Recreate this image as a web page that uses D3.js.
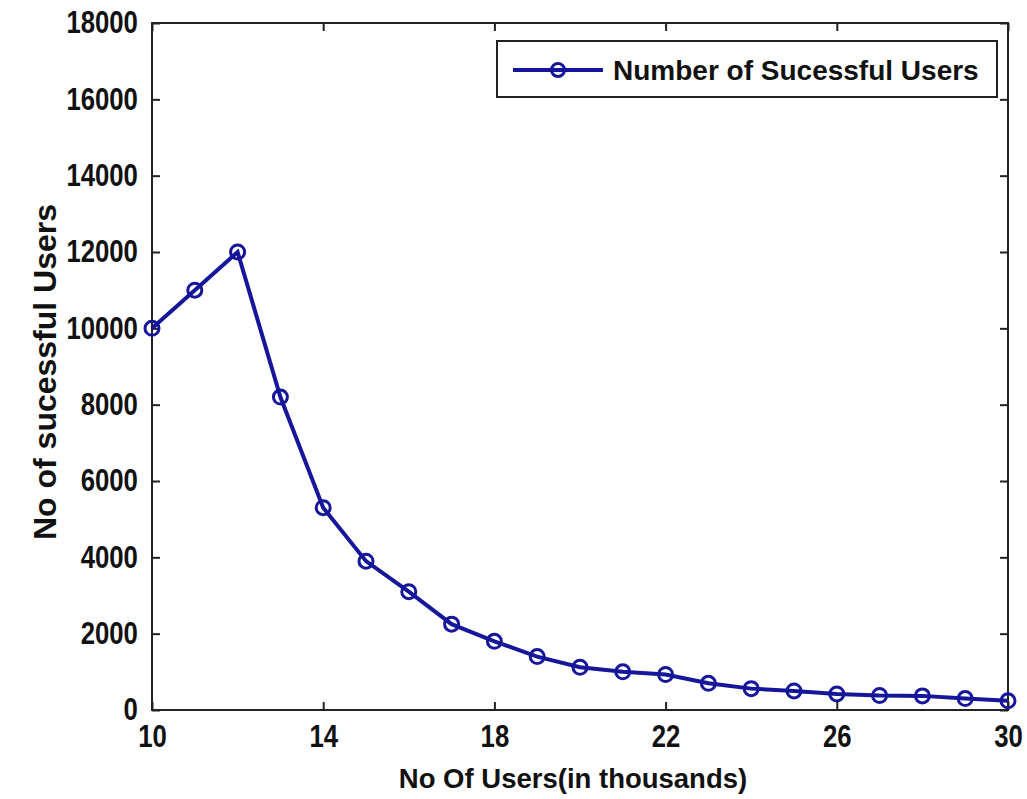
<!DOCTYPE html>
<html>
<head>
<meta charset="utf-8">
<script src="https://cdn.jsdelivr.net/npm/d3@7"></script>
<style>
  body { margin: 0; background: #fff; }
  text { font-family: "Liberation Sans", Arial, sans-serif; font-weight: bold; fill: #111; }
</style>
</head>
<body>
<div id="chart"></div>
<script>
var users = [10, 11, 12, 13, 14, 15, 16, 17, 18, 19, 20, 21, 22, 23, 24, 25, 26, 27, 28, 29, 30];
var successful = [10000, 11000, 12000, 8200, 5300, 3900, 3100, 2250, 1800, 1400, 1120, 1000, 930, 700, 560, 500, 420, 380, 370, 300, 240];
var xTicks = [10, 14, 18, 22, 26, 30];
var yTicks = [0, 2000, 4000, 6000, 8000, 10000, 12000, 14000, 16000, 18000];
var seriesName = "Number of Sucessful Users";

var W = 1027, H = 799;
var margin = {top: 23, right: 19, bottom: 89, left: 152};
var lineColor = "#16169a";

var svg = d3.select("#chart").append("svg")
    .attr("width", W)
    .attr("height", H);

var x = d3.scaleLinear().domain([10, 30]).range([margin.left, W - margin.right]);
var y = d3.scaleLinear().domain([0, 18000]).range([H - margin.bottom, margin.top]);

var g = svg.append("g");

// box
g.append("rect")
    .attr("x", x(10)).attr("y", y(18000))
    .attr("width", x(30) - x(10)).attr("height", y(0) - y(18000))
    .attr("fill", "none").attr("stroke", "#222").attr("stroke-width", 2);

// inward ticks on all four sides
var tickLen = 8;
var ax = function(axis, tx, ty) {
    var a = g.append("g").attr("transform", "translate(" + tx + "," + ty + ")").call(axis);
    a.select(".domain").remove();
    a.selectAll("line").attr("stroke", "#222").attr("stroke-width", 2);
    return a;
};
var xb = ax(d3.axisBottom(x).tickValues(xTicks).tickSize(-tickLen).tickPadding(15).tickFormat(d3.format("d")), 0, y(0));
ax(d3.axisTop(x).tickValues(xTicks).tickSize(-tickLen).tickFormat(""), 0, y(18000));
var yl = ax(d3.axisLeft(y).tickValues(yTicks).tickSize(-tickLen).tickPadding(17).tickFormat(d3.format("d")), x(10), 0);
ax(d3.axisRight(y).tickValues(yTicks).tickSize(-tickLen).tickFormat(""), x(30), 0);

// condensed look for tick labels
xb.selectAll("text").style("font-size", "31px").attr("fill", "#111").attr("transform", "scale(0.83,1)");
yl.selectAll("text").style("font-size", "31px").attr("fill", "#111").attr("transform", "scale(0.83,1)");

// line + markers
var data = users.map(function(u, i) { return {x: u, y: successful[i]}; });
var line = d3.line().x(function(d) { return x(d.x); }).y(function(d) { return y(d.y); });

g.append("path")
    .datum(data)
    .attr("d", line)
    .attr("fill", "none")
    .attr("stroke", lineColor)
    .attr("stroke-width", 4);

g.selectAll("circle.pt")
    .data(data)
    .enter().append("circle")
    .attr("class", "pt")
    .attr("cx", function(d) { return x(d.x); })
    .attr("cy", function(d) { return y(d.y); })
    .attr("r", 7)
    .attr("fill", "none")
    .attr("stroke", lineColor)
    .attr("stroke-width", 3);

// legend
var lg = g.append("g").attr("transform", "translate(497,41)");
lg.append("rect")
    .attr("width", 500).attr("height", 56)
    .attr("fill", "#fff").attr("stroke", "#222").attr("stroke-width", 2);
lg.append("line")
    .attr("x1", 16).attr("x2", 106).attr("y1", 29).attr("y2", 29)
    .attr("stroke", lineColor).attr("stroke-width", 4);
lg.append("circle")
    .attr("cx", 61).attr("cy", 29).attr("r", 6.5)
    .attr("fill", "none").attr("stroke", lineColor).attr("stroke-width", 3);
lg.append("text")
    .attr("x", 116).attr("y", 39)
    .style("font-size", "28px")
    .text(seriesName);

// axis titles
svg.append("text")
    .attr("x", (x(10) + x(30)) / 2 - 7)
    .attr("y", 788)
    .attr("text-anchor", "middle")
    .style("font-size", "27.5px")
    .text("No Of Users(in thousands)");

svg.append("text")
    .attr("transform", "translate(56,372) rotate(-90)")
    .attr("text-anchor", "middle")
    .style("font-size", "32px")
    .text("No of sucessful Users");
</script>
</body>
</html>
